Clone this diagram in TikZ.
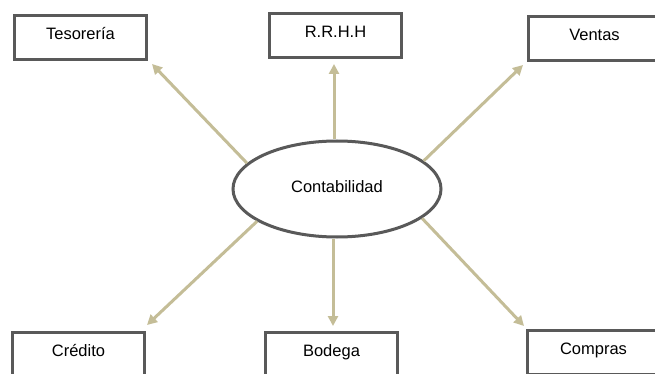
\documentclass[tikz,border=0pt]{standalone}
\usepackage{fontspec}
\setmainfont{Liberation Sans}
\usetikzlibrary{arrows.meta,shapes.geometric,calc}
\definecolor{framegray}{HTML}{595959}
\definecolor{linktan}{HTML}{C4BD97}
\tikzset{
  dept/.style={draw=framegray, line width=3pt, fill=white, minimum width=132pt,
    minimum height=44pt, inner sep=0pt, text height=10pt, text depth=6pt,
    font=\fontsize{16.5}{19}\selectfont},
  hub/.style={ellipse, draw=framegray, line width=3pt, fill=white, minimum width=208pt,
    minimum height=96pt, inner sep=0pt, text height=11pt, text depth=5pt,
    font=\fontsize{16.5}{19}\selectfont},
  link/.style={draw=linktan, line width=3pt, -{Triangle[length=10pt,width=10pt]}}
}
\begin{document}
\begin{tikzpicture}[x=1pt,y=-1pt]
  \useasboundingbox (0,0) rectangle (655,374);
  \clip (0,0) rectangle (655,374);
  \fill[white] (0,0) rectangle (655,374);

  % central unit
  \node[hub] (con) at (337,189) {Contabilidad};

  % departments
  \node[dept] (tes) at (80.5,37.5) {Tesorería};
  \node[dept] (rrh) at (335.5,35.5) {R.R.H.H};
  \node[dept] (ven) at (594.5,38.5) {Ventas};
  \node[dept] (cre) at (78.5,354.5) {Crédito};
  \node[dept] (bod) at (331.5,354.5) {Bodega};
  \node[dept] (com) at (593.5,352.5) {Compras};

  % arrow tips, just off the box corners
  \coordinate (tesT) at ($(tes.south east)+(4,3)$);
  \coordinate (venT) at ($(ven.south west)+(-4,3)$);
  \coordinate (creT) at ($(cre.north east)+(1,-6)$);
  \coordinate (comT) at ($(com.north west)+(-2,-3)$);

  % connectors
  \draw[link] (con.164) -- (tesT);
  \draw[link] ($(con.north)+(-3,0)$) -- ($(con.north |- rrh.south)+(-3,5)$);
  \draw[link] (con.18) -- (venT);
  \draw[link] (con.202) -- (creT);
  \draw[link] ($(con.south)+(-4,0)$) -- ($(con.south |- bod.north)+(-4,-5)$);
  \draw[link] (con.341) -- (comT);
\end{tikzpicture}
\end{document}
